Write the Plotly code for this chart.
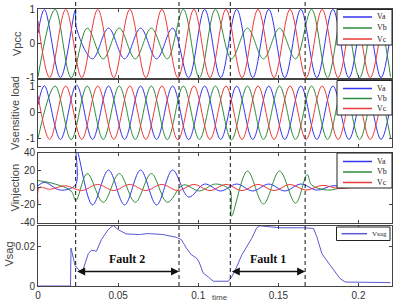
import plotly.graph_objects as go

# ---------------- data ----------------
# times (s) of the half-cycle extremes of each phase
T_A = [0.0, 0.004, 0.014, 0.024, 0.034, 0.044, 0.054, 0.064, 0.074, 0.084, 0.094, 0.104,
       0.114, 0.124, 0.134, 0.144, 0.154, 0.164, 0.174, 0.184, 0.194, 0.204, 0.214, 0.22]
T_B = [0.0, 0.0107, 0.0207, 0.0307, 0.0407, 0.0507, 0.0607, 0.0707, 0.0807, 0.0907, 0.1007,
       0.1107, 0.1207, 0.1307, 0.1407, 0.1507, 0.1607, 0.1707, 0.1807, 0.1907, 0.2007, 0.2107, 0.22]
T_C = [0.0, 0.0073, 0.0173, 0.0273, 0.0373, 0.0473, 0.0573, 0.0673, 0.0773, 0.0873, 0.0973,
       0.1073, 0.1173, 0.1273, 0.1373, 0.1473, 0.1573, 0.1673, 0.1773, 0.1873, 0.1973, 0.2073,
       0.2173, 0.22]

# Vpcc extremes
VPCC_A = [0.3, 1, -1, 0.45, -0.45, 0.45, -0.45, 0.45, -0.45, 0.45, -1, 1, -1, 1, -1, 1,
          -1, 1, -1, 1, -1, 1, -1, 0.3]
VPCC_B = [-0.98, 1, -1, 0.45, -0.45, 0.45, -0.45, 0.45, -0.45, 1, -1, 1, -0.45, 0.45,
          -0.45, 0.45, -0.45, 1, -1, 1, -1, 1, -0.97]
VPCC_C = [0.66, -1, 1, -1, 1, -1, 1, -1, 1, -1, 1, -1, 1, -1, 1, -1, 1, -1, 1, -1, 1, -1, 1, 0.66]
VPCC_EXTRA_A = ([0.0233], [0.98])

# Vsensitive load extremes
VSENS_A = [0.3, 1.03, -1.02, 1.06, -1.02, 1.02, -1.02, 1.02, -1.02, 1.02, -1.03, 1.02, -1.02,
           1.02, -1.02, 1.02, -1.02, 1.02, -1.02, 1.02, -1.02, 1.02, -1.02, 0.3]
VSENS_B = [-0.98, 1.02, -1.03, 1.02, -1.02, 1.02, -1.02, 1.02, -1.03, 1.02, -1.02, 1.02,
           -1.04, 1.02, -1.02, 1.02, -1.02, 1.02, -1.02, 1.02, -1.02, 1.02, -0.97]
VSENS_C = [0.66, -1.02, 1.02, -1.02, 1.02, -1.02, 1.02, -1.02, 1.02, -1.04, 1.02, -1.02,
           1.02, -1.02, 1.02, -1.02, 1.02, -1.02, 1.02, -1.02, 1.02, -1.02, 1.02, 0.66]

# Vinjection extremes
VINJ_A = [2, 6, -3, 44, -20, 20, -20, 20, -20, 20, -11, 4, -4, 4, -4, 4, -4, 4, -3, 2,
          0, 0, 0, 0]
VINJ_B = [8, 4, -4, 16, -17, 16, -17, 16, -17, 3, -4, 4, -33, 19, -19, 19, -18, 3, -3, 0,
          0, 0, 0]
VINJ_C = [-18, -2, 2, -3.5, 3.5, -3.5, 3.5, -3.5, 3.5, -3.5, 3.5, -3.5, 3.5, -3.5, 3.5,
          -3.5, 3.5, -3, 2.5, -1, 0, 0, 0, 0]
VINJ_EXTRA_A = ([0.0234], [3])
VINJ_EXTRA_B = ([0.0236, 0.1197, 0.168], [-15, -3, 15])
VINJ_EXTRA_C = ([0.0008], [0])

# Vsag
VSAG_T = [0, 0.0203, 0.0206, 0.0215, 0.0231, 0.0262, 0.0283, 0.0314, 0.0333, 0.0365, 0.0396,
          0.0438, 0.0469, 0.05, 0.055, 0.0633, 0.0685, 0.0779, 0.0863, 0.0894, 0.0925,
          0.0956, 0.0988, 0.1005, 0.1031, 0.1063, 0.1094, 0.1188, 0.1208, 0.124, 0.1271,
          0.1302, 0.1333, 0.1365, 0.1385, 0.1448, 0.151, 0.1656, 0.1719, 0.174, 0.1771,
          0.1792, 0.1823, 0.1854, 0.1885, 0.1917, 0.22]
VSAG_V = [0, 0, 0.0191, 0.0155, 0.0104, 0.0074, 0.0087, 0.0163, 0.018, 0.0175, 0.0234,
          0.0284, 0.0305, 0.0284, 0.0262, 0.0259, 0.0264, 0.0259, 0.0245, 0.0234, 0.0192,
          0.0158, 0.0141, 0.0121, 0.0065, 0.0045, 0.0024, 0.0024, 0.0045, 0.0096, 0.0155,
          0.0197, 0.0239, 0.0293, 0.0303, 0.0298, 0.0293, 0.0293, 0.029, 0.0248, 0.0164,
          0.0139, 0.0105, 0.0071, 0.0037, 0.002, 0.0017]

FAULT_T = [0.0235, 0.088, 0.12, 0.1667]
FAULT_SPANS = [(0.0235, 0.088, "Fault 2"), (0.12, 0.1667, "Fault 1")]
PHASES = ["Va", "Vb", "Vc"]
Y_TITLES = ["Vpcc", "Vsensitive load", "Vinjection", "Vsag"]
X_TICKS = [0, 0.05, 0.1, 0.15, 0.2]
X_TICKTEXT = ["0", "0.05", "0.1", "0.15", "0.2"]

# ---------------- style / layout ----------------
COL = {"Va": "#3434f2", "Vb": "#2e8c3c", "Vc": "#ee3a3a"}
SAG_COL = "#5a5ad2"
W, H = 396, 304
L, R, T, B = 38, 392, 9, 286
PANEL_PX = [(9, 78), (80, 146.7), (152.5, 222.5), (226, 286)]


def pxx(x):
    return (x - L) / (R - L)


def pxy(y):
    return (B - y) / (B - T)


def merge(t, v, extra=None):
    pts = list(zip(t, v))
    if extra:
        pts += list(zip(extra[0], extra[1]))
    pts.sort(key=lambda p: p[0])
    return [p[0] for p in pts], [p[1] for p in pts]


fig = go.Figure()

panels = [
    [(T_A, VPCC_A, VPCC_EXTRA_A), (T_B, VPCC_B, None), (T_C, VPCC_C, None)],
    [(T_A, VSENS_A, None), (T_B, VSENS_B, None), (T_C, VSENS_C, None)],
    [(T_A, VINJ_A, VINJ_EXTRA_A), (T_B, VINJ_B, VINJ_EXTRA_B), (T_C, VINJ_C, VINJ_EXTRA_C)],
]
for i, series in enumerate(panels):
    ax = "" if i == 0 else str(i + 1)
    for name, (t, v, ex) in zip(PHASES, series):
        xs, ys = merge(t, v, ex)
        fig.add_trace(go.Scatter(x=xs, y=ys, mode="lines", name=name, showlegend=False,
                                 line=dict(color=COL[name], width=1, shape="spline", smoothing=1),
                                 xaxis="x" + ax, yaxis="y" + ax, hoverinfo="skip"))

fig.add_trace(go.Scatter(x=VSAG_T, y=VSAG_V, mode="lines", name="Vsag", showlegend=False,
                         line=dict(color=SAG_COL, width=1), xaxis="x4", yaxis="y4"))

axis_common = dict(showgrid=False, zeroline=False, showline=True, mirror="ticks",
                   linecolor="#444", linewidth=1, ticks="inside", ticklen=3, tickcolor="#444",
                   tickfont=dict(family="Liberation Sans", size=10, color="#333"))
y_ranges = [[-1.01, 1.01], [-1.3, 1.25], [-40.3, 40.3], [0, 0.0302]]
y_ticks = [[-1, 0, 1], [-1, 0, 1], [-40, -20, 0, 20, 40], [0, 0.02]]
y_ticktext = [["-1", "0", "1"], ["-1", "0", "1"], ["-40", "-20", "0", "20", "40"], ["0", "0.02"]]

lay = {}
for i, (top, bot) in enumerate(PANEL_PX):
    k = "" if i == 0 else str(i + 1)
    lay["xaxis" + k] = dict(axis_common, domain=[0, 1], range=[0, 0.2209], anchor="y" + k,
                            tickvals=X_TICKS, ticktext=X_TICKTEXT, showticklabels=(i == 3),
                            **({} if i == 0 else {"matches": "x"}))
    lay["yaxis" + k] = dict(axis_common, domain=[pxy(bot), pxy(top)], range=y_ranges[i],
                            anchor="x" + k, tickvals=y_ticks[i], ticktext=y_ticktext[i])

shapes = []
for ft in FAULT_T:
    shapes.append(dict(type="line", xref="x", yref="paper", x0=ft, x1=ft, y0=0, y1=pxy(1),
                       line=dict(color="#111", width=1, dash="4px,3px"), layer="above"))

annotations = []
# y-axis titles
title_pos = [(16.5, 43.5), (15, 113), (14, 187.5), (8.5, 254)]
for (xp, yp), ttl in zip(title_pos, Y_TITLES):
    annotations.append(dict(text=ttl, xref="paper", yref="paper", x=pxx(xp), y=pxy(yp),
                            textangle=-90, showarrow=False, xanchor="center", yanchor="middle",
                            font=dict(family="Liberation Sans", size=11, color="#444")))
# x title
annotations.append(dict(text="time", xref="paper", yref="paper", x=pxx(220), y=pxy(304),
                        showarrow=False, xanchor="center", yanchor="bottom",
                        font=dict(family="Liberation Sans", size=8, color="#444")))

# fault arrows & labels
for x0, x1, lbl in FAULT_SPANS:
    annotations.append(dict(x=x1, y=0.0073, ax=x0, ay=0.0073, xref="x4", yref="y4",
                            axref="x4", ayref="y4", text="", showarrow=True,
                            arrowside="end+start", arrowhead=2, arrowsize=1, arrowwidth=1.6,
                            arrowcolor="#111", standoff=0, startstandoff=0))
    annotations.append(dict(x=(x0 + x1) / 2, y=0.0135, xref="x4", yref="y4", text="<b>%s</b>" % lbl,
                            showarrow=False, xanchor="center", yanchor="middle",
                            font=dict(family="Liberation Serif", size=12, color="#111")))

# legends drawn as boxes
legend_specs = [
    dict(box=(337, 9.5, 392, 45), rows=[17, 28, 39], names=PHASES, line=(343, 372), tx=375),
    dict(box=(337, 80.5, 392, 115), rows=[88.5, 98.5, 108.5], names=PHASES, line=(343, 372), tx=375),
    dict(box=(337, 153, 392, 188), rows=[161.5, 172, 182.5], names=PHASES, line=(343, 372), tx=375),
    dict(box=(336.5, 227, 390, 240.5), rows=[233.7], names=["Vsag"], line=(341.5, 367), tx=370),
]
for spec in legend_specs:
    x0, y0, x1, y1 = spec["box"]
    shapes.append(dict(type="rect", xref="paper", yref="paper", x0=pxx(x0), x1=pxx(x1),
                       y0=pxy(y1), y1=pxy(y0), fillcolor="white",
                       line=dict(color="#222", width=1), layer="above"))
    for name, ry in zip(spec["names"], spec["rows"]):
        c = COL.get(name, SAG_COL)
        shapes.append(dict(type="line", xref="paper", yref="paper", x0=pxx(spec["line"][0]),
                           x1=pxx(spec["line"][1]), y0=pxy(ry), y1=pxy(ry),
                           line=dict(color=c, width=1.5), layer="above"))
        annotations.append(dict(text=name, xref="paper", yref="paper", x=pxx(spec["tx"]),
                                y=pxy(ry), showarrow=False, xanchor="left", yanchor="middle",
                                font=dict(family="Liberation Serif", size=8 if name != "Vsag" else 7,
                                          color="#222")))

fig.update_layout(**lay)
fig.update_layout(width=W, height=H, margin=dict(l=L, r=W - R, t=T, b=H - B, autoexpand=False),
                  paper_bgcolor="white", plot_bgcolor="white", showlegend=False,
                  shapes=shapes, annotations=annotations)

fig.write_html("out.html")
